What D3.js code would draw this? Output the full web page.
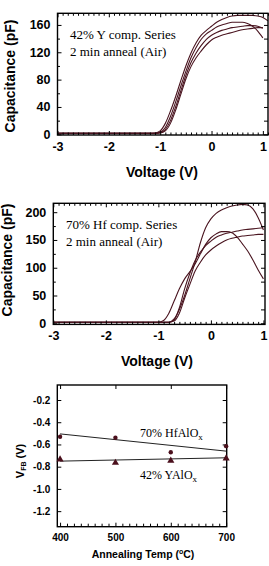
<!DOCTYPE html>
<html>
<head>
<meta charset="utf-8">
<script src="https://cdn.jsdelivr.net/npm/d3@7"></script>
<style>
  body { margin: 0; background: #fff; }
  svg { display: block; }
  .tick text { font-family: Arial, "Liberation Sans", sans-serif; font-weight: bold; }
  .axisText { font-family: Arial, "Liberation Sans", sans-serif; font-weight: bold; }
  .note { font-family: "Times New Roman", "Liberation Serif", serif; }
</style>
</head>
<body>
<div id="chart"></div>
<script>
// Data

// Panel 1: 42% Y comp. series
var voltGrid1 = [-3, -1.2, -1.1, -1.0, -0.9, -0.8, -0.7, -0.6, -0.5, -0.4, -0.3, -0.2, -0.1, 0, 0.1, 0.2, 0.3, 0.4, 0.5, 0.6, 0.7, 0.8, 0.9, 1.0, 1.1];
var capY42a = [1.5, 1.5, 2, 5, 16, 34, 55, 78, 100, 119, 134, 145, 152, 158, 164, 168, 171, 173, 174, 174, 174, 174, 173, 171, 166];
var capY42b = [1.5, 1.5, 1.5, 3, 10, 26, 47, 70, 92, 112, 127, 139, 147, 152, 157, 160, 162, 164, 164, 164, 162, 158, 151, 141, null];
var capY42c = [1.5, 1.5, 1.5, 2.5, 7, 20, 40, 63, 86, 105, 119, 130, 139, 145, 149, 152, 154, 156, 157, 158, 159, 159, 158, 155, null];
var capY42d = [1.5, 1.5, 1.5, 2, 5, 16, 35, 58, 81, 99, 112, 122, 131, 138, 142, 145, 147, 149, 151, 153, 154, 155, 156, 156, null];
var capTicks1 = [0, 40, 80, 120, 160];

// Panel 2: 70% Hf comp. series
var voltGrid2 = [-3, -1.0, -0.9, -0.8, -0.7, -0.6, -0.5, -0.4, -0.3, -0.2, -0.1, 0, 0.1, 0.2, 0.3, 0.4, 0.5, 0.6, 0.7, 0.8, 0.9, 1.0];
var capHf70a = [2, 2, 5, 18, 40, 62, 80, 93, 107, 125, 142, 154, 161, 165, 165, 163, 155, 143, 130, 114, 96, 80];
var capHf70b = [2, 2, 2, 2, 8, 25, 50, 80, 110, 145, 172, 188, 198, 204, 208, 211, 213, 214, 213, 206, 190, 168];
var capHf70c = [2, 2, 2, 2, 6, 28, 62, 90, 113, 128, 140, 148, 155, 159, 162, 164, 166, 168, 169, 170, 171, 172];
var capHf70d = [2, 2, 2, 2, 4, 18, 45, 70, 94, 110, 123, 132, 139, 145, 150, 153, 155, 157, 158, 159, 160, 160];
var capTicks2 = [0, 50, 100, 150, 200];

var voltTicks = [-3, -2, -1, 0, 1];

// Panel 3: flat band voltage vs anneal temperature
var annealTemps = [400, 500, 600, 700];
var vfbHf = [-0.53, -0.54, -0.67, -0.615];
var vfbY = [-0.735, -0.765, -0.745, -0.725];
var fitTemps = [400, 700];
var fitHf = [-0.505, -0.66];
var fitY = [-0.75, -0.72];
var vfbTicks = [-0.2, -0.4, -0.6, -0.8, -1.0, -1.2];
var tempTicks = [400, 500, 600, 700];

var lineColor = "#4a1520";

var svg = d3.select("#chart")
  .append("svg")
  .attr("width", 269)
  .attr("height", 566);

function zip(xs, ys) {
  return xs.map(function(x, i) { return [x, ys[i]]; });
}

// plain hyphen minus, like the original figure
function hyphen(fmt) {
  return function(d) { return fmt(d).replace("\u2212", "-"); };
}

// draws a framed panel with inward ticks on all four sides
function framePanel(g, x, y, opt) {
  var x0 = x.range()[0], x1 = x.range()[1];
  var y0 = y.range()[0], y1 = y.range()[1];

  g.append("g")
    .attr("transform", "translate(0," + y0 + ")")
    .call(d3.axisBottom(x).tickValues(opt.xMinor).tickSize(-opt.minor).tickFormat(""))
    .call(function(a) { a.select(".domain").remove(); });
  g.append("g")
    .attr("transform", "translate(0," + y0 + ")")
    .call(d3.axisBottom(x).tickValues(opt.xTicks).tickSizeInner(-opt.major).tickSizeOuter(0).tickPadding(opt.pad + opt.major).tickFormat(opt.xFormat))
    .call(function(a) {
      a.select(".domain").remove();
      a.selectAll("text").style("font-size", opt.tickFont + "px");
    });
  g.append("g")
    .attr("transform", "translate(0," + y1 + ")")
    .call(d3.axisTop(x).tickValues(opt.xMinorTop).tickSize(-opt.minor).tickFormat(""))
    .call(function(a) { a.select(".domain").remove(); });
  g.append("g")
    .attr("transform", "translate(0," + y1 + ")")
    .call(d3.axisTop(x).tickValues(opt.xTicks).tickSize(-opt.major).tickFormat(""))
    .call(function(a) { a.select(".domain").remove(); });

  g.append("g")
    .attr("transform", "translate(" + x0 + ",0)")
    .call(d3.axisLeft(y).tickValues(opt.yTicks).tickSizeInner(-opt.major).tickSizeOuter(0).tickPadding(opt.pad + opt.major).tickFormat(opt.yFormat))
    .call(function(a) {
      a.select(".domain").remove();
      a.selectAll("text").style("font-size", opt.tickFont + "px");
    });
  g.append("g")
    .attr("transform", "translate(" + x0 + ",0)")
    .call(d3.axisLeft(y).tickValues(opt.yMinor).tickSize(-opt.minor).tickFormat(""))
    .call(function(a) { a.select(".domain").remove(); });
  g.append("g")
    .attr("transform", "translate(" + x1 + ",0)")
    .call(d3.axisRight(y).tickValues(opt.yTicks.concat(opt.yMinor)).tickSize(-opt.major).tickFormat(""))
    .call(function(a) { a.select(".domain").remove(); });

  g.selectAll(".tick line").attr("stroke", "#000").attr("stroke-width", 1);

  g.append("rect")
    .attr("x", x0)
    .attr("y", y1)
    .attr("width", x1 - x0)
    .attr("height", y0 - y1)
    .attr("fill", "none")
    .attr("stroke", "#000")
    .attr("stroke-width", 1.4);
}

function range01(a, b, step) {
  var out = [];
  var n = Math.round((b - a) / step);
  for (var i = 0; i <= n; i++) out.push(+(a + i * step).toFixed(4));
  return out;
}

function cvPanel(opt) {
  var g = svg.append("g");
  var x = d3.scaleLinear().domain(opt.xDomain).range(opt.xRange);
  var y = d3.scaleLinear().domain(opt.yDomain).range(opt.yRange);

  var clipId = "clip" + opt.id;
  g.append("clipPath").attr("id", clipId)
    .append("rect")
    .attr("x", opt.xRange[0]).attr("y", opt.yRange[1])
    .attr("width", opt.xRange[1] - opt.xRange[0])
    .attr("height", opt.yRange[0] - opt.yRange[1]);

  var line = d3.line()
    .defined(function(d) { return d[1] !== null; })
    .x(function(d) { return x(d[0]); })
    .y(function(d) { return y(d[1]); })
    .curve(d3.curveMonotoneX);

  opt.series.forEach(function(s) {
    g.append("path")
      .attr("clip-path", "url(#" + clipId + ")")
      .attr("d", line(zip(opt.grid, s)))
      .attr("fill", "none")
      .attr("stroke", lineColor)
      .attr("stroke-width", 1.1);
  });

  var minorV = range01(-3, opt.xDomain[1], 0.1).filter(function(v) { return Math.abs(v - Math.round(v)) > 0.01; });

  framePanel(g, x, y, {
    xTicks: voltTicks,
    xMinor: minorV,
    xMinorTop: minorV,
    yTicks: opt.yTicks,
    yMinor: opt.yMinor,
    major: 4,
    minor: 2.5,
    pad: 3,
    tickFont: 12.5,
    xFormat: hyphen(d3.format("d")),
    yFormat: hyphen(d3.format("d"))
  });

  g.append("text")
    .attr("class", "note")
    .attr("x", opt.noteX)
    .attr("y", opt.noteY)
    .style("font-size", "13px")
    .text(opt.note1);
  g.append("text")
    .attr("class", "note")
    .attr("x", opt.noteX)
    .attr("y", opt.noteY + 16.5)
    .style("font-size", "13px")
    .text(opt.note2);

  g.append("text")
    .attr("class", "axisText")
    .attr("transform", "translate(" + opt.yTitleX + "," + opt.yTitleY + ") rotate(-90)")
    .attr("text-anchor", "middle")
    .attr("dy", "0.35em")
    .style("font-size", "14px")
    .text("Capacitance (pF)");

  g.append("text")
    .attr("class", "axisText")
    .attr("x", opt.xTitleX)
    .attr("y", opt.xTitleY)
    .attr("text-anchor", "middle")
    .style("font-size", "14px")
    .text("Voltage (V)");
}

cvPanel({
  id: 1,
  grid: voltGrid1,
  series: [capY42a, capY42b, capY42c, capY42d],
  xDomain: [-3, 1.1],
  xRange: [57.5, 268],
  yDomain: [-1, 177],
  yRange: [135, 13.3],
  yTicks: capTicks1,
  yMinor: [20, 60, 100, 140],
  note1: "42% Y comp. Series",
  note2: "2 min anneal (Air)",
  noteX: 70,
  noteY: 39,
  yTitleX: 10,
  yTitleY: 76,
  xTitleX: 162,
  xTitleY: 177
});

cvPanel({
  id: 2,
  grid: voltGrid2,
  series: [capHf70a, capHf70b, capHf70c, capHf70d],
  xDomain: [-3, 1.03],
  xRange: [53.3, 265],
  yDomain: [-2, 216],
  yRange: [324.4, 203.3],
  yTicks: capTicks2,
  yMinor: [25, 75, 125, 175],
  note1: "70% Hf comp. Series",
  note2: "2 min anneal (Air)",
  noteX: 66,
  noteY: 229,
  yTitleX: 7,
  yTitleY: 260,
  xTitleX: 157,
  xTitleY: 366
});

// Panel 3
(function() {
  var g = svg.append("g");
  var x = d3.scaleLinear().domain([395, 701]).range([57.3, 226.7]);
  var y = d3.scaleLinear().domain([-1.34, -0.065]).range([526.7, 385]);

  var tempMinor = range01(400, 700, 12.5).filter(function(t) { return t % 100 !== 0; });

  framePanel(g, x, y, {
    xTicks: tempTicks,
    xMinor: tempMinor,
    xMinorTop: [],
    yTicks: vfbTicks,
    yMinor: [],
    major: 4,
    minor: 3,
    pad: 3,
    tickFont: 10,
    xFormat: hyphen(d3.format("d")),
    yFormat: hyphen(d3.format(".1f"))
  });

  var fit = d3.line()
    .x(function(d) { return x(d[0]); })
    .y(function(d) { return y(d[1]); });

  [fitHf, fitY].forEach(function(s) {
    g.append("path")
      .attr("d", fit(zip(fitTemps, s)))
      .attr("fill", "none")
      .attr("stroke", "#222")
      .attr("stroke-width", 1);
  });

  g.selectAll(".hf")
    .data(zip(annealTemps, vfbHf))
    .enter().append("circle")
      .attr("cx", function(d) { return x(d[0]); })
      .attr("cy", function(d) { return y(d[1]); })
      .attr("r", 2.2)
      .attr("fill", "#4a0f1c");

  g.selectAll(".yy")
    .data(zip(annealTemps, vfbY))
    .enter().append("path")
      .attr("transform", function(d) { return "translate(" + x(d[0]) + "," + y(d[1]) + ")"; })
      .attr("d", d3.symbol().type(d3.symbolTriangle).size(22))
      .attr("fill", "#4a0f1c");

  var lab1 = g.append("text")
    .attr("class", "note")
    .attr("x", 140)
    .attr("y", 437)
    .style("font-size", "12px")
    .text("70% HfAlO");
  lab1.append("tspan").attr("dy", 3).style("font-size", "9px").text("x");

  var lab2 = g.append("text")
    .attr("class", "note")
    .attr("x", 140)
    .attr("y", 479)
    .style("font-size", "12px")
    .text("42% YAlO");
  lab2.append("tspan").attr("dy", 3).style("font-size", "9px").text("x");

  var yt = g.append("text")
    .attr("class", "axisText")
    .attr("transform", "translate(20,461) rotate(-90)")
    .attr("text-anchor", "middle")
    .attr("dy", "0.35em")
    .style("font-size", "11px");
  yt.append("tspan").text("V");
  yt.append("tspan").attr("dy", 2.5).style("font-size", "7px").text("FB");
  yt.append("tspan").attr("dy", -2.5).text(" (V)");

  var xt = g.append("text")
    .attr("class", "axisText")
    .attr("x", 143)
    .attr("y", 558)
    .attr("text-anchor", "middle")
    .style("font-size", "10.5px");
  xt.append("tspan").text("Annealing Temp (");
  xt.append("tspan").attr("dy", -4).style("font-size", "7px").text("o");
  xt.append("tspan").attr("dy", 4).text("C)");
})();
</script>
</body>
</html>
